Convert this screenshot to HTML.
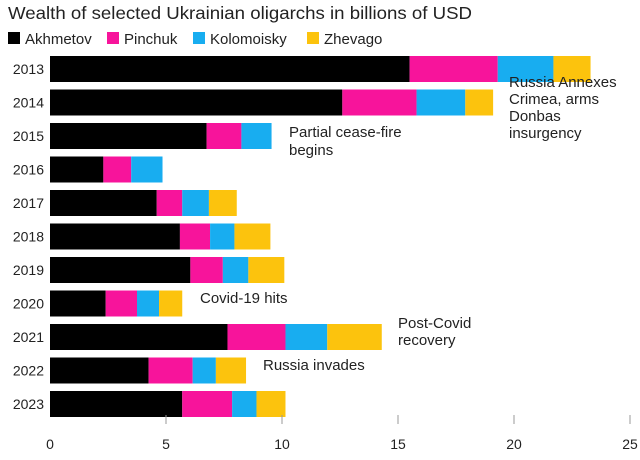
<!DOCTYPE html>
<html><head><meta charset="utf-8"><style>
body{margin:0;background:#fff;width:640px;height:455px;overflow:hidden;font-family:"Liberation Sans",sans-serif}
svg text{font-family:"Liberation Sans",sans-serif}
</style></head><body>
<svg id="c" width="640" height="455">
<text x="8" y="19" font-size="17.5" fill="#222" textLength="464" lengthAdjust="spacingAndGlyphs">Wealth of selected Ukrainian oligarchs in billions of USD</text>
<g id="legend"></g>
<g id="bars"></g>
<g id="axis"></g>
<g id="notes" font-size="15" fill="#222">
<text x="509" y="87"><tspan x="509">Russia Annexes</tspan><tspan x="509" dy="17">Crimea, arms</tspan><tspan x="509" dy="17">Donbas</tspan><tspan x="509" dy="17">insurgency</tspan></text>
<text x="289" y="137"><tspan x="289">Partial cease-fire</tspan><tspan x="289" dy="18">begins</tspan></text>
<text x="200" y="303">Covid-19 hits</text>
<text x="398" y="328"><tspan x="398">Post-Covid</tspan><tspan x="398" dy="17">recovery</tspan></text>
<text x="263" y="370">Russia invades</text>
</g>
</svg>
<script>
const years=["2013","2014","2015","2016","2017","2018","2019","2020","2021","2022","2023"];
const akhmetov=[15.5,12.6,6.75,2.3,4.6,5.6,6.05,2.4,7.65,4.25,5.7];
const pinchuk=[3.8,3.2,1.5,1.2,1.1,1.3,1.4,1.35,2.5,1.9,2.15];
const kolomoisky=[2.4,2.1,1.3,1.35,1.15,1.05,1.1,0.95,1.8,1.0,1.05];
const zhevago=[1.6,1.2,0,0,1.2,1.55,1.55,1.0,2.35,1.3,1.25];
const ticks=[0,5,10,15,20,25];
const names=["Akhmetov","Pinchuk","Kolomoisky","Zhevago"];
const colors=["#000000","#f7149b","#18adf0","#fcc30d"];
const series=[akhmetov,pinchuk,kolomoisky,zhevago];
const NS="http://www.w3.org/2000/svg";
const x0=50,x1=630,xmax=25;
const X=v=>x0+v/xmax*(x1-x0);
const Y=i=>56+i*33.5;
const bh=26;
function mk(t,a,p){const e=document.createElementNS(NS,t);for(const k in a)e.setAttribute(k,a[k]);p.appendChild(e);return e;}
const lg=document.getElementById('legend');
const lxs=[8,107,193,307];
names.forEach((n,i)=>{
 const lx=lxs[i];
 const r=mk('rect',{x:lx,y:32,width:12,height:12,fill:colors[i]},lg);
 
 
 const t=mk('text',{x:lx+17,y:44,'font-size':15,fill:'#222'},lg);t.textContent=n;
 
 
});
const bg=document.getElementById('bars');
years.forEach((yr,i)=>{
 const t=mk('text',{x:44,y:Y(i)+bh/2+5,'font-size':14,fill:'#222','text-anchor':'end'},bg);t.textContent=yr;
 
 
 let acc=0;
 series.forEach((s,j)=>{
  const v=s[i];if(v<=0)return;
  const r=mk('rect',{x:X(acc),y:Y(i),width:X(acc+v)-X(acc),height:bh,fill:colors[j]},bg);
  
  
  acc+=v;
 });
});
const ax=document.getElementById('axis');
ticks.forEach(v=>{
 if(v>0){const l=mk('line',{x1:X(v),x2:X(v),y1:415,y2:424,stroke:'#999','stroke-width':1},ax);
 
 }
 const t=mk('text',{x:X(v),y:449,'font-size':14,fill:'#222','text-anchor':'middle'},ax);t.textContent=v;
 
 
});
</script>
</body></html>
